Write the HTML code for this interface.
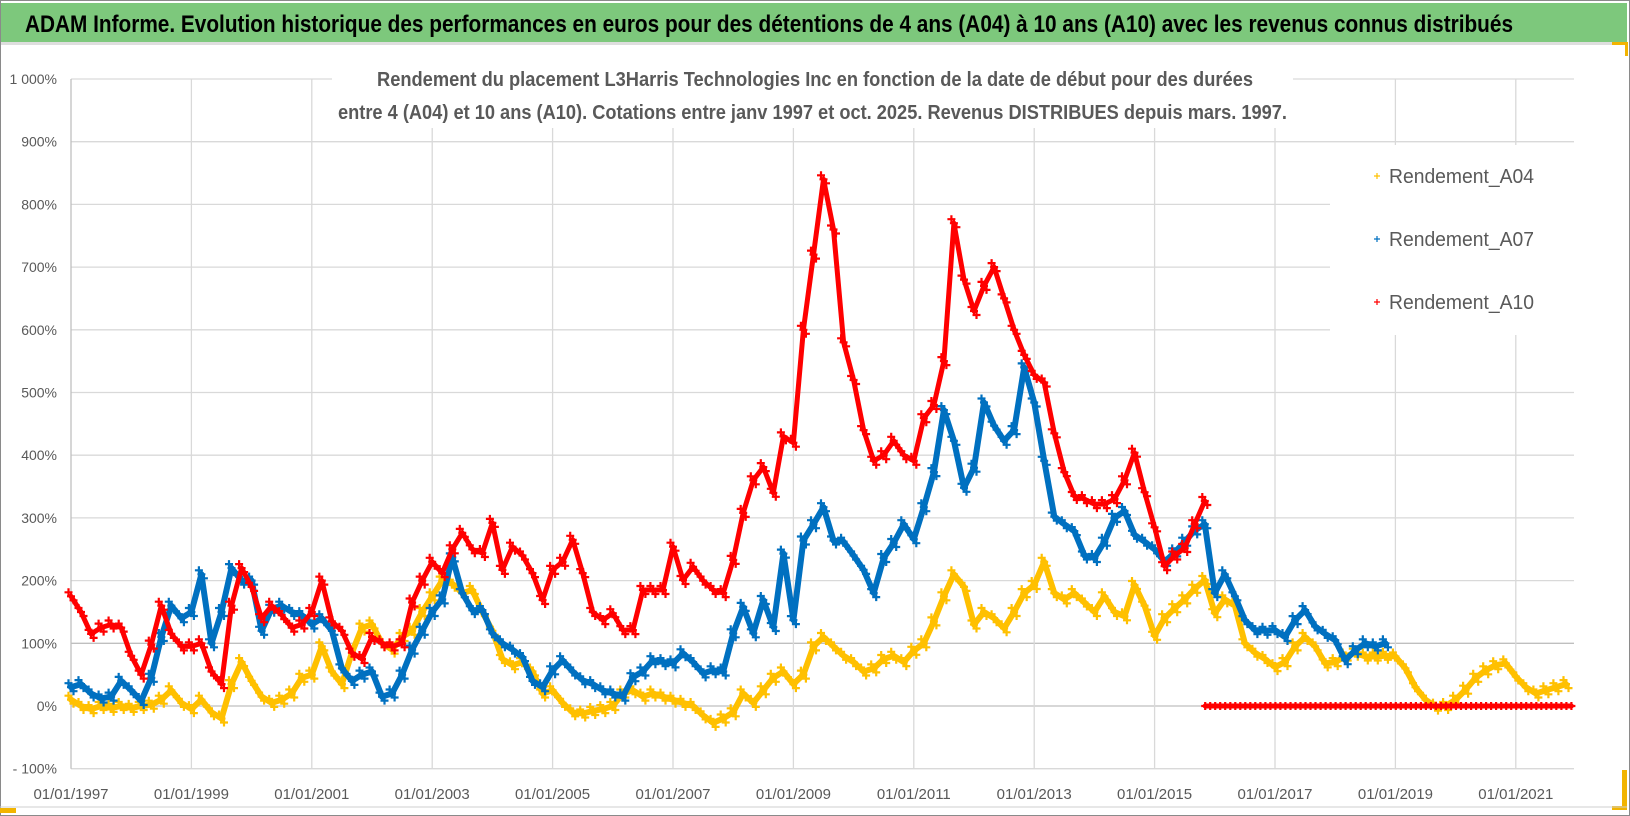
<!DOCTYPE html>
<html><head><meta charset="utf-8"><style>
html,body{margin:0;padding:0;background:#fff;}
svg{display:block;}
</style></head><body>
<svg id="chart" width="1630" height="816" xmlns="http://www.w3.org/2000/svg" font-family="'Liberation Sans', sans-serif">
  <rect x="0.5" y="0.5" width="1629" height="815" fill="#fff" stroke="#8a8a8a"/>
  <rect x="1" y="3" width="1626" height="39" fill="#7dc87c"/>
  <rect x="1" y="42" width="1626" height="3" fill="#dedede"/>
  <text x="25" y="32" font-size="24" font-weight="bold" fill="#000" textLength="1488" lengthAdjust="spacingAndGlyphs">ADAM Informe. Evolution historique des performances en euros pour des détentions de 4 ans (A04) à 10 ans (A10) avec les revenus connus distribués</text>
  <rect x="1612" y="42" width="16" height="3" fill="#f2b400"/>
  <rect x="1625" y="42" width="3" height="14" fill="#f2b400"/>
  <rect x="0" y="808" width="16" height="5" fill="#f2b400"/>
  <rect x="1622" y="770" width="5" height="40" fill="#f2b400"/>
  <rect x="1612" y="806" width="15" height="4" fill="#f2b400"/>
  <line x1="0" y1="807" x2="1627" y2="807" stroke="#cfcfcf"/>
  <g id="grid"></g>
  <g id="ylabels"></g>
  <g id="xlabels"></g>
  <g id="marks"></g>
  <rect x="332" y="62" width="961" height="66" fill="#fff"/>
  <text x="377" y="86" font-size="20" font-weight="bold" fill="#595959" textLength="876" lengthAdjust="spacingAndGlyphs">Rendement du placement L3Harris Technologies Inc en fonction de la date de début pour des durées</text>
  <text x="338" y="119" font-size="20" font-weight="bold" fill="#595959" textLength="949" lengthAdjust="spacingAndGlyphs">entre 4 (A04) et 10 ans (A10).  Cotations entre janv 1997 et oct. 2025.  Revenus DISTRIBUES depuis mars. 1997.</text>
  <rect x="1330" y="145" width="245" height="190" fill="#fff"/>
  <g>
    <g>
      <path d="M1374 176h6M1377 173v6" stroke="#ffc000" stroke-width="1.2"/>
      <text x="1389" y="183" font-size="20" fill="#595959" textLength="145" lengthAdjust="spacingAndGlyphs">Rendement_A04</text>
    </g>
    <g>
      <path d="M1374 239h6M1377 236v6" stroke="#0070c0" stroke-width="1.2"/>
      <text x="1389" y="246" font-size="20" fill="#595959" textLength="145" lengthAdjust="spacingAndGlyphs">Rendement_A07</text>
    </g>
    <g>
      <path d="M1374 302h6M1377 299v6" stroke="#ff0000" stroke-width="1.2"/>
      <text x="1389" y="309" font-size="20" fill="#595959" textLength="145" lengthAdjust="spacingAndGlyphs">Rendement_A10</text>
    </g>
  </g>
</svg>
<script>
// ---- data ----
const yTicks = [1000, 900, 800, 700, 600, 500, 400, 300, 200, 100, 0, -100];
const yTickLabels = ["1 000%", "900%", "800%", "700%", "600%", "500%", "400%", "300%", "200%", "100%", "0%", "- 100%"];
const xTickYears = [1997, 1999, 2001, 2003, 2005, 2007, 2009, 2011, 2013, 2015, 2017, 2019, 2021];
const xTickLabels = ["01/01/1997", "01/01/1999", "01/01/2001", "01/01/2003", "01/01/2005", "01/01/2007", "01/01/2009", "01/01/2011", "01/01/2013", "01/01/2015", "01/01/2017", "01/01/2019", "01/01/2021"];
const seriesA04Start = 1997.0;
const seriesA04 = [
 10,0,-5,0,-3,0, -3,0,2,10,25,5, -5,10,-10,-20,35,70, 40,15,5,10,20,45,
 50,95,55,35,85,125, 130,100,90,110,120,150, 175,200,195,180,185,150, 120,75,65,70,55,20,
 25,5,-10,-12,-8,-5, 0,20,25,15,20,15, 10,5,0,-15,-27,-20, -10,20,5,25,45,55,
 35,50,95,110,95,80, 70,55,60,75,80,70, 88,100,135,175,210,190, 130,150,140,124,150,180,
 193,230,180,170,180,165, 150,175,150,143,193,160, 112,140,156,170,187,201, 148,170,160,100,85,75,
 62,70,95,110,95,68, 70,79,85,79,79,80, 79,60,30,10,-1,0, 10,26,45,57,65,68,
 47,30,20,25,30,35
];
const seriesA07Start = 1997.0;
const seriesA07 = [
 30,35,20,12,15,40, 25,8,45,110,160,140, 150,210,100,150,220,200, 200,120,155,160,150,145,
 130,140,120,60,40,50, 55,15,20,50,90,120, 150,170,237,180,153,153, 116,100,90,78,40,30,
 57,73,55,41,35,25, 20,15,46,55,73,70, 68,84,70,52,57,55, 116,158,116,169,126,243,
 137,264,290,317,264,262, 240,217,180,236,260,290, 266,317,373,472,423,348, 380,484,447,423,440,540,
 484,391,302,290,279,240, 236,262,300,311,273,262, 250,230,245,262,280,290, 180,210,175,137,121,120,
 121,110,137,153,127,115, 105,73,89,100,95,100
];
const seriesA10Start = 1997.0;
const seriesA10 = [
 175,150,115,125,130,125, 80,50,98,160,115,95, 95,100,55,35,160,220, 190,140,160,145,125,130,
 150,200,135,120,85,75, 110,100,95,100,165,200, 230,212,250,276,250,244, 292,217,254,240,212,169,
 217,230,265,212,150,137, 148,121,121,185,185,185, 254,201,222,200,185,180, 233,308,360,381,340,430,
 420,600,720,840,760,580, 520,440,391,400,423,400, 391,459,480,550,770,680, 630,670,700,650,600,560,
 528,516,435,373,335,330, 322,322,330,360,404,341, 285,223,240,252,290,327
];
const seriesA10ZeroStart = 2015.84;
const seriesA10Zero = [
 0,0,0,0,0,0,0,0,0,0,0,0,0,0,0,0,0,0,0,0,0,0,0,0,0,
 0,0,0,0,0,0,0,0,0,0,0,0,0,0,0,0,0,0,0,0,0,0,0,0,0,
 0,0,0,0,0,0,0,0,0,0,0,0,0,0,0,0,0,0,0,0,0,0,0,0
];

// ---- axes ----
const X0 = 71, PX_PER_YEAR = 60.2, PLOT_RIGHT = 1574;
const Y0 = 706, PX_PER_PCT = 0.627;
function xScale(year) { return X0 + (year - 1997) * PX_PER_YEAR; }
function yScale(v) { return Y0 - v * PX_PER_PCT; }
const NS = "http://www.w3.org/2000/svg";

const grid = document.getElementById('grid');
yTicks.forEach((t, i) => {
  const l = document.createElementNS(NS, 'line');
  l.setAttribute('x1', X0); l.setAttribute('x2', PLOT_RIGHT);
  l.setAttribute('y1', yScale(t)); l.setAttribute('y2', yScale(t));
  l.setAttribute('stroke', t === 0 || t === 100 ? '#bfbfbf' : '#d9d9d9');
  l.setAttribute('stroke-width', '1.3');
  
  
  grid.appendChild(l);
  const tx = document.createElementNS(NS, 'text');
  tx.setAttribute('x', 57); tx.setAttribute('y', yScale(t) + 5);
  tx.setAttribute('text-anchor', 'end'); tx.setAttribute('font-size', '14');
  tx.setAttribute('fill', '#595959');
  tx.textContent = yTickLabels[i];
  
  
  document.getElementById('ylabels').appendChild(tx);
});
xTickYears.forEach((yr, i) => {
  const l = document.createElementNS(NS, 'line');
  l.setAttribute('x1', xScale(yr)); l.setAttribute('x2', xScale(yr));
  l.setAttribute('y1', yScale(1000)); l.setAttribute('y2', yScale(-100));
  l.setAttribute('stroke', i === 0 ? '#bfbfbf' : '#d9d9d9');
  l.setAttribute('stroke-width', '1.3');
  
  
  grid.appendChild(l);
  const tx = document.createElementNS(NS, 'text');
  tx.setAttribute('x', xScale(yr)); tx.setAttribute('y', 799);
  tx.setAttribute('text-anchor', 'middle'); tx.setAttribute('font-size', '15');
  tx.setAttribute('fill', '#595959');
  tx.textContent = xTickLabels[i];
  
  
  document.getElementById('xlabels').appendChild(tx);
});

// ---- marks ----
const marks = document.getElementById('marks');
function drawSeries(values, start, step, color, name, spread, bandWidth) {
  const g = document.createElementNS(NS, 'g');
  
  
  let line = '';
  let d = '';
  values.forEach((v, i) => {
    const x = xScale(start + i * step), y = yScale(v);
    line += (i ? 'L' : 'M') + x.toFixed(1) + ' ' + y.toFixed(1);
    const offs = spread ? [[-2.5, -4], [2.5, 4], [0, 0]] : [[0, 0]];
    offs.forEach(o => {
      const cx = x + o[0], cy = y + o[1];
      d += `M${(cx - 4).toFixed(1)} ${cy.toFixed(1)}h8M${cx.toFixed(1)} ${(cy - 4).toFixed(1)}v8`;
    });
  });
  const band = document.createElementNS(NS, 'path');
  band.setAttribute('d', line);
  band.setAttribute('fill', 'none');
  band.setAttribute('stroke', color);
  band.setAttribute('stroke-width', bandWidth);
  band.setAttribute('stroke-linejoin', 'round');
  band.setAttribute('stroke-linecap', 'round');
  
  
  g.appendChild(band);
  const p = document.createElementNS(NS, 'path');
  p.setAttribute('d', d);
  p.setAttribute('stroke', color);
  p.setAttribute('stroke-width', '2.2');
  
  
  g.appendChild(p);
  marks.appendChild(g);
}
drawSeries(seriesA04, seriesA04Start, 1 / 6, '#ffc000', 'series-a04', true, 6);
drawSeries(seriesA07, seriesA07Start, 1 / 6, '#0070c0', 'series-a07', true, 6);
drawSeries(seriesA10, seriesA10Start, 1 / 6, '#ff0000', 'series-a10', true, 5);
drawSeries(seriesA10Zero, seriesA10ZeroStart, 1 / 12, '#ff0000', 'series-a10-zero', false, 5);
</script>
</body></html>
